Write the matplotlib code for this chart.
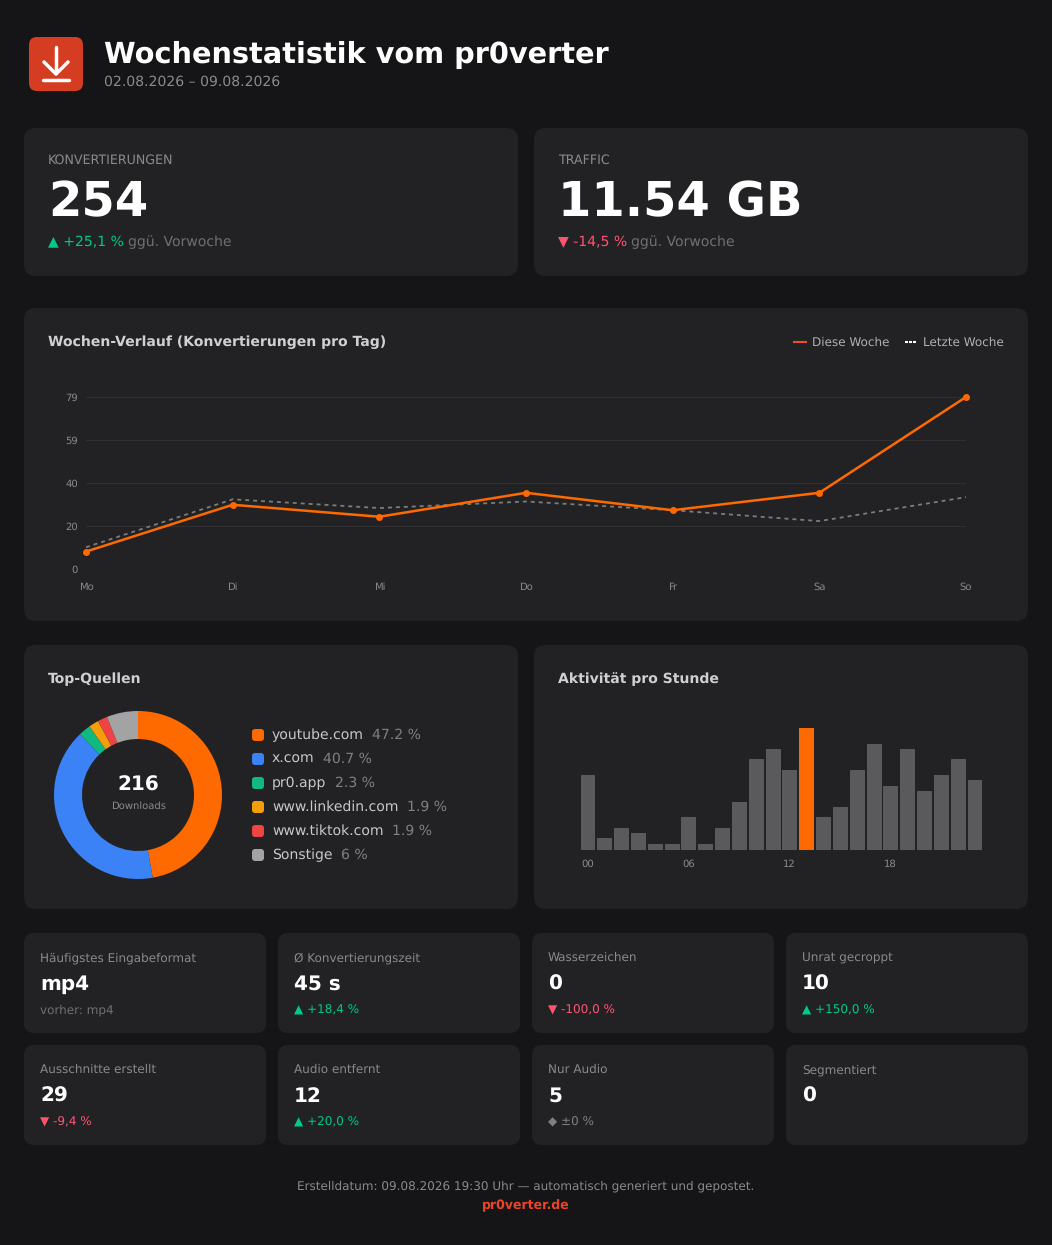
import matplotlib
matplotlib.use('Agg')
import matplotlib.pyplot as plt
from matplotlib.patches import FancyBboxPatch

plt.rcParams['text.hinting'] = 'none'

W = 1052
H = 1245

days = ['Mo', 'Di', 'Mi', 'Do', 'Fr', 'Sa', 'So']
this_week = [8, 29.5, 24, 35, 27, 35, 79]
last_week = [10, 32, 28, 31, 27, 22, 33]
y_ticks = [0, 19.75, 39.5, 59.25, 79]
y_labels = ['0', '20', '40', '59', '79']

sources = ['youtube.com', 'x.com', 'pr0.app', 'www.linkedin.com', 'www.tiktok.com', 'Sonstige']
shares = [47.2, 40.7, 2.3, 1.9, 1.9, 6]
share_labels = ['47.2 %', '40.7 %', '2.3 %', '1.9 %', '1.9 %', '6 %']
source_colors = ['#ff6a00', '#3b82f6', '#10b981', '#f59e0b', '#ef4444', '#a3a3a3']

hours = list(range(24))
hour_counts = [14, 2, 4, 3, 1, 1, 6, 1, 4, 9, 17, 19, 15, 23, 6, 8, 15, 20, 12, 19, 11, 14, 17, 13]
peak_hour = 13

small_labels = ['Häufigstes Eingabeformat', 'Ø Konvertierungszeit', 'Wasserzeichen', 'Unrat gecroppt',
                'Ausschnitte erstellt', 'Audio entfernt', 'Nur Audio', 'Segmentiert']
small_values = ['mp4', '45 s', '0', '10', '29', '12', '5', '0']
small_notes = ['vorher: mp4', '▲ +18,4 %', '▼ -100,0 %', '▲ +150,0 %',
               '▼ -9,4 %', '▲ +20,0 %', '◆ ±0 %', '']

BG = '#151517'
CARD = '#222224'
GREEN = '#00c98a'
RED = '#ff5470'
MUTED = '#8a8a8a'
ORANGE = '#ff6a00'
note_colors = {'▲': GREEN, '▼': RED, '◆': '#808080', 'v': '#707070'}


def px(size):
    return size * 0.72


def frame(x0, y0, x1, y1):
    return [x0 / W, 1 - y1 / H, (x1 - x0) / W, (y1 - y0) / H]


fig = plt.figure(figsize=(W / 100, H / 100), dpi=100, facecolor=BG)
bg = fig.add_axes([0, 0, 1, 1])
bg.set_xlim(0, W)
bg.set_ylim(H, 0)
bg.axis('off')


def card(x0, y0, x1, y1, r=12, color=CARD):
    bg.add_patch(FancyBboxPatch((x0, y0), x1 - x0, y1 - y0,
                                boxstyle='round,pad=0,rounding_size=%s' % r,
                                facecolor=color, edgecolor='none'))


def label(x, y, s, size, color, weight='normal', ha='left'):
    return bg.text(x, y, s, fontsize=px(size), color=color, fontweight=weight,
                   ha=ha, va='baseline')


def text_right(t):
    return t.get_window_extent(fig.canvas.get_renderer()).x1


# header
card(29, 37, 83, 91, r=8, color='#d43d21')
bg.plot([56, 56], [47, 73], color='white', lw=2.5, solid_capstyle='round')
bg.plot([44, 56, 68], [62, 74, 62], color='white', lw=2.5, solid_capstyle='round', solid_joinstyle='round')
bg.plot([43, 69], [80, 80], color='white', lw=2.5, solid_capstyle='round')
label(104, 63, 'Wochenstatistik vom pr0verter', 28.8, 'white', 'bold')
label(104, 86, '02.08.2026 – 09.08.2026', 14, MUTED)

# big cards
card(24, 128, 518, 276)
card(534, 128, 1028, 276)
label(48, 163.5, 'KONVERTIERUNGEN', 12.6, MUTED)
label(48, 216, '254', 48, 'white', 'bold')
t = label(48, 246, '▲ +25,1 %', 14, GREEN)
label(text_right(t) + 4, 246, 'ggü. Vorwoche', 14, '#707070')
label(558, 163.5, 'TRAFFIC', 12.6, MUTED)
label(558, 216, '11.54 GB', 48, 'white', 'bold')
t = label(558, 246, '▼ -14,5 %', 14, RED)
label(text_right(t) + 4, 246, 'ggü. Vorwoche', 14, '#707070')

# line chart
card(24, 308, 1028, 621)
label(48, 346, 'Wochen-Verlauf (Konvertierungen pro Tag)', 14, '#d0d0d0', 'bold')
bg.plot([794, 806], [342, 342], color='#ee4d2d', lw=1.5)
label(812, 346, 'Diese Woche', 12, '#b0b0b0')
bg.plot([905, 917], [342, 342], color='white', lw=1.5, dashes=(1.44, 0.48))
label(923, 346, 'Letzte Woche', 12, '#b0b0b0')

ax = fig.add_axes(frame(86, 397, 966, 569))
ax.patch.set_alpha(0)
ax.set_xlim(0, 6)
ax.set_ylim(0, 79)
ax.plot(range(7), last_week, color='#7c7c7c', lw=1.3, dashes=(2.2, 2.2), clip_on=False, zorder=3)
ax.plot(range(7), this_week, color=ORANGE, lw=1.8, marker='o', ms=4, clip_on=False, zorder=4)
ax.set_xticks(range(7))
ax.set_xticklabels(days)
ax.set_yticks(y_ticks)
ax.set_yticklabels(y_labels)
ax.tick_params(length=0, labelsize=px(10), labelcolor=MUTED)
ax.tick_params(axis='x', pad=9.6)
ax.tick_params(axis='y', pad=5.8)
ax.grid(axis='y', color='#303032', lw=0.72)
ax.set_axisbelow(True)
for s in ax.spines.values():
    s.set_visible(False)

# donut
card(24, 645, 518, 909)
label(48, 683, 'Top-Quellen', 14, '#d0d0d0', 'bold')
ax = fig.add_axes(frame(54, 711, 222, 879))
ax.pie(shares, colors=source_colors, startangle=90, counterclock=False, radius=1,
       wedgeprops=dict(width=1 / 3, linewidth=0))
ax.set_xlim(-1, 1)
ax.set_ylim(-1, 1)
label(138, 791, '216', 20, 'white', 'bold', ha='center')
label(138, 809, 'Downloads', 10, MUTED, ha='center')

for i, name in enumerate(sources):
    yc = 735 + i * 24
    card(252, yc - 6, 264, yc + 6, r=3, color=source_colors[i])
    t = label(272, yc + 4, name, 14, '#c8c8c8')
    label(text_right(t) + 8.5, yc + 4, share_labels[i], 14, '#808080')

# hourly bars
card(534, 645, 1028, 909)
label(558, 683, 'Aktivität pro Stunde', 14, '#d0d0d0', 'bold')
ax = fig.add_axes(frame(580, 727.8, 982, 849))
ax.patch.set_alpha(0)
bar_colors = [ORANGE if h == peak_hour else '#5a5a5c' for h in hours]
ax.bar(hours, hour_counts, width=0.83, color=bar_colors, edgecolor=bar_colors, linewidth=0.72,
       joinstyle='round', clip_on=False)
ax.set_xlim(-0.445, 23.445)
ax.set_ylim(0, max(hour_counts))
ax.set_yticks([])
ax.set_xticks([0, 6, 12, 18])
ax.set_xticklabels(['00', '06', '12', '18'])
ax.tick_params(length=0, labelsize=px(10), labelcolor=MUTED, pad=7.2)
for s in ax.spines.values():
    s.set_visible(False)

# small cards
for i in range(8):
    x0 = [24, 278, 532, 786][i % 4]
    y0 = 933 + 112 * (i // 4)
    card(x0, y0, x0 + 242, y0 + 100, r=10)
    label(x0 + 16, y0 + 28, small_labels[i], 12, MUTED)
    label(x0 + 16, y0 + 57, small_values[i], 20, 'white', 'bold')
    if small_notes[i]:
        label(x0 + 16, y0 + 81, small_notes[i], 12, note_colors[small_notes[i][0]])

# footer
label(526, 1189, 'Erstelldatum: 09.08.2026 19:30 Uhr — automatisch generiert und gepostet.', 12, MUTED, ha='center')
label(526, 1209, 'pr0verter.de', 12.5, '#e8452a', 'bold', ha='center')

fig.savefig('out.png', dpi=100, facecolor=BG)
